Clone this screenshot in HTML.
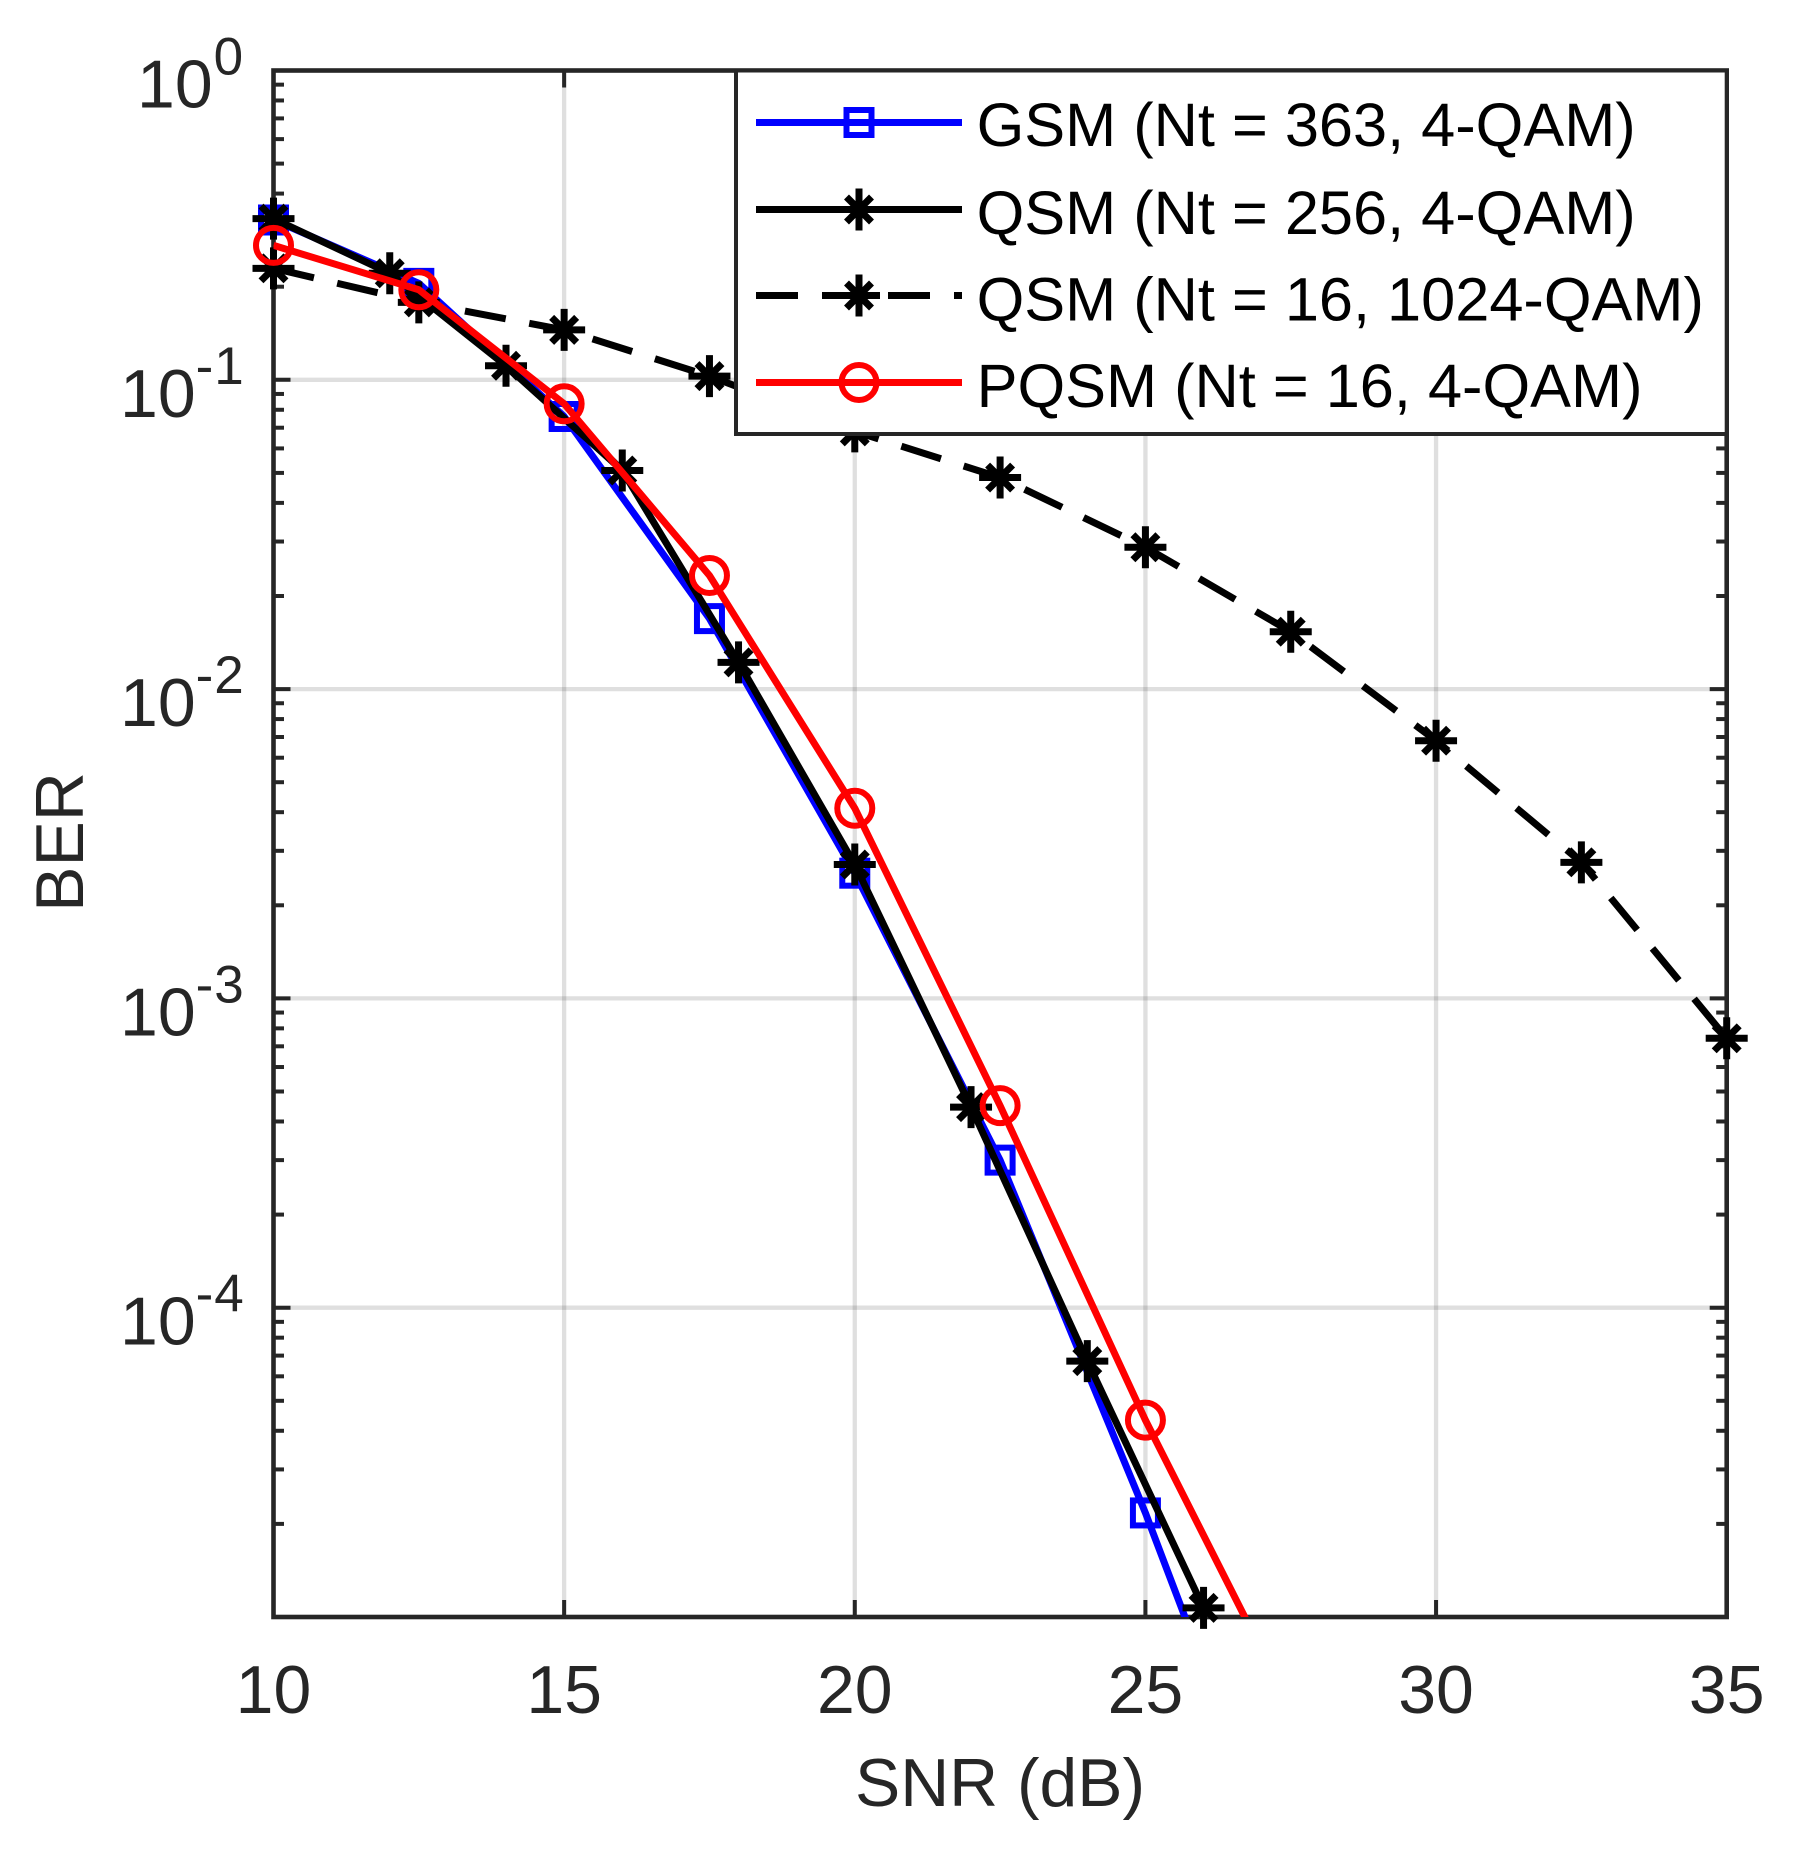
<!DOCTYPE html>
<html lang="en">
<head>
<meta charset="utf-8">
<title>BER vs SNR</title>
<style>
html,body{margin:0;padding:0;background:#fff;width:1799px;height:1852px;overflow:hidden}
svg{display:block}
text{font-family:"Liberation Sans",Arial,sans-serif}
</style>
</head>
<body>
<svg id="chart" xmlns="http://www.w3.org/2000/svg" width="1799" height="1852" viewBox="0 0 1799 1852">
  <defs><clipPath id="plot-clip"><rect x="273.5" y="70.5" width="1453.2" height="1546.5"/></clipPath></defs>
  <g id="grid"></g>
  <g id="ticks"></g>
  <rect x="273.5" y="70.5" width="1453.2" height="1546.5" fill="none" stroke="#262626" stroke-width="4.6"/>
  <g id="x-labels"></g>
  <g id="y-labels"></g>
  <text x="1000" y="1806" font-size="67.8" fill="#262626" text-anchor="middle">SNR (dB)</text>
  <text transform="translate(83,842) rotate(-90)" font-size="68" fill="#262626" text-anchor="middle">BER</text>
  <g id="series"></g>
  <g id="legend">
    <rect x="736" y="70.5" width="990.7" height="363.5" fill="#fff" stroke="#262626" stroke-width="4"/>
    <g>
      <line x1="756" y1="122.5" x2="962" y2="122.5" stroke="#0000ff" stroke-width="7"/>
      <rect x="846.5" y="110" width="25" height="25" fill="none" stroke="#0000ff" stroke-width="6"/>
      <text x="976.6" y="146" font-size="61.3" fill="#000">GSM (Nt = 363, 4-QAM)</text>
    </g>
    <g>
      <line x1="756" y1="209.5" x2="962" y2="209.5" stroke="#000" stroke-width="7"/>
      <g stroke="#000" stroke-width="7">
        <line x1="859" y1="188.5" x2="859" y2="230.5"/><line x1="838" y1="209.5" x2="880" y2="209.5"/>
        <line x1="846.5" y1="197" x2="871.5" y2="222"/><line x1="846.5" y1="222" x2="871.5" y2="197"/>
      </g>
      <text x="976.6" y="234" font-size="61.3" fill="#000">QSM (Nt = 256, 4-QAM)</text>
    </g>
    <g>
      <line x1="756" y1="295.5" x2="962" y2="295.5" stroke="#000" stroke-width="7" stroke-dasharray="42 24"/>
      <g stroke="#000" stroke-width="7">
        <line x1="859" y1="274.5" x2="859" y2="316.5"/><line x1="838" y1="295.5" x2="880" y2="295.5"/>
        <line x1="846.5" y1="283" x2="871.5" y2="308"/><line x1="846.5" y1="308" x2="871.5" y2="283"/>
      </g>
      <text x="976.6" y="320.5" font-size="61.3" fill="#000">QSM (Nt = 16, 1024-QAM)</text>
    </g>
    <g>
      <line x1="756" y1="382.5" x2="962" y2="382.5" stroke="#ff0000" stroke-width="7"/>
      <circle cx="859" cy="382.5" r="17.5" fill="none" stroke="#ff0000" stroke-width="6"/>
      <text x="976.6" y="407" font-size="61.3" fill="#000">PQSM (Nt = 16, 4-QAM)</text>
    </g>
  </g>
</svg>
<script>
const xTicks = [10, 15, 20, 25, 30, 35];
const xTickLabels = ["10", "15", "20", "25", "30", "35"];
const yExponents = [0, -1, -2, -3, -4, -5];
const yTickLabels = ["0", "-1", "-2", "-3", "-4", ""];

const gsmSnr = [10, 12.5, 15, 17.5, 20, 22.5, 25, 27.5];
const gsmBer = [0.3286, 0.205, 0.0761, 0.0169, 0.00254, 0.0003, 0.0000217, 0.00000126];

const qsm256Snr = [10, 12, 14, 16, 18, 20, 22, 24, 26];
const qsm256Ber = [0.332, 0.221, 0.111, 0.0509, 0.0122, 0.00271, 0.000445, 0.0000672, 0.0000107];

const qsm16Snr = [10, 12.5, 15, 17.5, 20, 22.5, 25, 27.5, 30, 32.5, 35];
const qsm16Ber = [0.2293, 0.178, 0.145, 0.1028, 0.0681, 0.0483, 0.02875, 0.01533, 0.00681, 0.002754, 0.000743];

const pqsmSnr = [10, 12.5, 15, 17.5, 20, 22.5, 25, 27.5];
const pqsmBer = [0.272, 0.1955, 0.0837, 0.0233, 0.00412, 0.00045, 0.0000433, 0.00000508];

const SVGNS = "http://www.w3.org/2000/svg";
const plot = {left: 273.5, right: 1726.7, top: 70.5, bottom: 1617};
const xMin = 10, xMax = 35, logMax = 0, logMin = -5;

function xScale(v) {
  return plot.left + (v - xMin) / (xMax - xMin) * (plot.right - plot.left);
}
function yScale(v) {
  return plot.top + (logMax - Math.log10(v)) / (logMax - logMin) * (plot.bottom - plot.top);
}
function make(tag, attrs, parent) {
  const node = document.createElementNS(SVGNS, tag);
  for (const k in attrs) node.setAttribute(k, attrs[k]);
  parent.appendChild(node);
  return node;
}

const gridG = document.getElementById("grid");
const ticksG = document.getElementById("ticks");
const xLabelsG = document.getElementById("x-labels");
const yLabelsG = document.getElementById("y-labels");
const seriesG = document.getElementById("series");
const axisColor = "#262626";

xTicks.forEach(function (t, i) {
  const x = xScale(t);
  if (t !== xMin && t !== xMax) {
    const g = make("line", {x1: x, x2: x, y1: plot.top, y2: plot.bottom, stroke: axisColor, "stroke-opacity": 0.15, "stroke-width": 4.3}, gridG);
    
    
  }
  [[plot.bottom, plot.bottom - 17], [plot.top, plot.top + 17]].forEach(function (p) {
    const tk = make("line", {x1: x, x2: x, y1: p[0], y2: p[1], stroke: axisColor, "stroke-width": 4}, ticksG);
    
    
  });
  const lab = make("text", {x: x, y: 1713, "font-size": 68, fill: axisColor, "text-anchor": "middle"}, xLabelsG);
  lab.textContent = xTickLabels[i];
  
  
});

yExponents.forEach(function (e, i) {
  const y = yScale(Math.pow(10, e));
  if (e !== logMax && e !== logMin) {
    const g = make("line", {x1: plot.left, x2: plot.right, y1: y, y2: y, stroke: axisColor, "stroke-opacity": 0.15, "stroke-width": 4.3}, gridG);
    
    
  }
  [[plot.left, plot.left + 17], [plot.right, plot.right - 17]].forEach(function (p) {
    const tk = make("line", {x1: p[0], x2: p[1], y1: y, y2: y, stroke: axisColor, "stroke-width": 4}, ticksG);
    
    
  });
  if (e > logMin) {
    for (let m = 2; m <= 9; m++) {
      const ym = yScale(m * Math.pow(10, e - 1));
      [[plot.left, plot.left + 10.5], [plot.right, plot.right - 10.5]].forEach(function (p) {
        const mt = make("line", {x1: p[0], x2: p[1], y1: ym, y2: ym, stroke: axisColor, "stroke-width": 4}, ticksG);
        
        
      });
    }
  }
  const expText = yTickLabels[i];
  if (expText !== "") {
    const negative = expText.charAt(0) === "-";
    const lab = make("text", {x: negative ? 120 : 137, y: y + 37, "font-size": 68, fill: axisColor}, yLabelsG);
    
    
    const base = make("tspan", {}, lab);
    base.textContent = "10";
    if (negative) {
      const sign = make("tspan", {dy: -33, "font-size": 53}, lab);
      sign.textContent = "-";
      const digit = make("tspan", {dx: 1, "font-size": 53}, lab);
      digit.textContent = expText.slice(1);
    } else {
      const digit = make("tspan", {dx: 1, dy: -33, "font-size": 53}, lab);
      digit.textContent = expText;
    }
  }
});

function drawMarker(kind, cx, cy, color, parent) {
  if (kind === "square") {
    const m = make("rect", {x: cx - 12.5, y: cy - 12.5, width: 25, height: 25, fill: "none", stroke: color, "stroke-width": 6}, parent);
    
    
  } else if (kind === "circle") {
    const m = make("circle", {cx: cx, cy: cy, r: 17.5, fill: "none", stroke: color, "stroke-width": 6}, parent);
    
    
  } else {
    const m = make("g", {stroke: color, "stroke-width": 7}, parent);
    
    
    make("line", {x1: cx, y1: cy - 21, x2: cx, y2: cy + 21}, m);
    make("line", {x1: cx - 21, y1: cy, x2: cx + 21, y2: cy}, m);
    make("line", {x1: cx - 12.5, y1: cy - 12.5, x2: cx + 12.5, y2: cy + 12.5}, m);
    make("line", {x1: cx - 12.5, y1: cy + 12.5, x2: cx + 12.5, y2: cy - 12.5}, m);
  }
}

function drawSeries(name, xs, ys, color, dash, marker) {
  const group = make("g", {}, seriesG);
  
  
  const pts = xs.map(function (x, i) { return xScale(x).toFixed(2) + "," + yScale(ys[i]).toFixed(2); }).join(" ");
  const attrs = {points: pts, fill: "none", stroke: color, "stroke-width": 7, "stroke-linejoin": "round", "clip-path": "url(#plot-clip)"};
  if (dash) attrs["stroke-dasharray"] = dash;
  const line = make("polyline", attrs, group);
  
  
  xs.forEach(function (x, i) {
    const cy = yScale(ys[i]);
    if (cy <= plot.bottom && cy >= plot.top) drawMarker(marker, xScale(x), cy, color, group);
  });
}

drawSeries("series-gsm-363", gsmSnr, gsmBer, "#0000ff", null, "square");
drawSeries("series-qsm-256", qsm256Snr, qsm256Ber, "#000000", null, "star");
drawSeries("series-qsm-16", qsm16Snr, qsm16Ber, "#000000", "41.5 23.9", "star");
drawSeries("series-pqsm-16", pqsmSnr, pqsmBer, "#ff0000", null, "circle");
</script>
</body>
</html>
